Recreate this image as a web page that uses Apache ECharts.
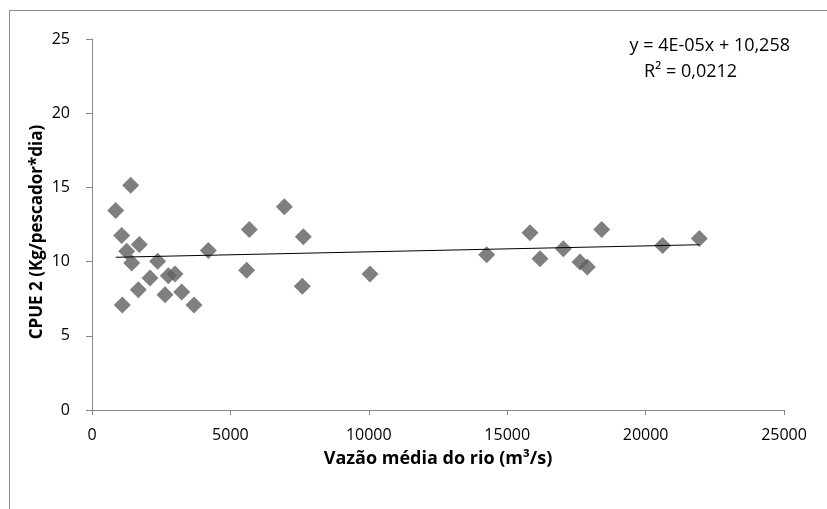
<!DOCTYPE html>
<html>
<head>
<meta charset="utf-8">
<script src="https://cdn.jsdelivr.net/npm/echarts@6/dist/echarts.min.js"></script>
<style>
  html, body { margin: 0; padding: 0; background: #fff; }
  #wrap { position: absolute; left: 9px; top: 10px; width: 900px; height: 600px;
          border-left: 1px solid #8c8c8c; border-top: 1px solid #8c8c8c; }
  #chart { position: absolute; left: 0; top: 0; width: 827px; height: 509px; }
</style>
</head>
<body>
<div id="wrap"></div>
<div id="chart"></div>
<script>
// vazão média do rio (m3/s)
const vazao = [856, 1398, 1072, 1710, 1253, 1433, 2372, 4203, 5684, 5587, 6948, 7635, 7598,
  2095, 2757, 2998, 1673, 2637, 3240, 3685, 1096,
  10043, 14259, 15824, 16185, 17027, 17630, 17894, 18413, 20614, 21940];
// CPUE 2 (kg/pescador*dia)
const cpue = [13.45, 15.14, 11.76, 11.15, 10.7, 9.91, 10.02, 10.74, 12.16, 9.41, 13.69, 11.67, 8.34,
  8.9, 9.05, 9.17, 8.11, 7.77, 7.95, 7.07, 7.07,
  9.17, 10.47, 11.94, 10.2, 10.86, 9.98, 9.64, 12.16, 11.08, 11.55];
// linha de tendência y = a*x + b
const slope = 0.00004;
const intercept = 10.258;
const xTicks = [0, 5000, 10000, 15000, 20000, 25000];
const yTicks = [0, 5, 10, 15, 20, 25];

const font = "'Open Sans', 'Liberation Sans', sans-serif";
const pts = vazao.map((v, i) => [v, cpue[i]]);
const xMin = Math.min(...vazao), xMax = Math.max(...vazao);
const trend = [[xMin, slope * xMin + intercept], [xMax, slope * xMax + intercept]];

const chart = echarts.init(document.getElementById('chart'));
chart.setOption({
  animation: false,
  grid: { left: 92, right: 43, top: 39, bottom: 99 },
  xAxis: {
    type: 'value', min: xTicks[0], max: xTicks[xTicks.length - 1], interval: 5000,
    name: 'Vazão média do rio (m³/s)', nameLocation: 'middle', nameGap: 40, nameMoveOverlap: false,
    nameTextStyle: { fontFamily: font, fontSize: 18, fontWeight: 'bold', color: '#000' },
    axisLine: { lineStyle: { color: '#868686' } },
    axisTick: { inside: false, length: 5, lineStyle: { color: '#868686' } },
    axisLabel: { fontFamily: font, fontSize: 16, color: '#000', margin: 17, formatter: v => String(v) },
    splitLine: { show: false }
  },
  yAxis: {
    type: 'value', min: yTicks[0], max: yTicks[yTicks.length - 1], interval: 5,
    axisLine: { show: true, lineStyle: { color: '#868686' } },
    axisTick: { show: true, length: 6, lineStyle: { color: '#868686' } },
    axisLabel: { fontFamily: font, fontSize: 16, color: '#000', margin: 22 },
    splitLine: { show: false }
  },
  series: [
    {
      type: 'line', data: trend, symbol: 'none', z: 3,
      lineStyle: { color: '#000', width: 1 }
    },
    {
      type: 'scatter', data: pts, symbol: 'diamond', symbolSize: 17, z: 2,
      itemStyle: { color: '#5f5f5f' }
    }
  ],
  graphic: [
    { type: 'text', x: 37, y: 232, rotation: Math.PI / 2,
      style: { text: 'CPUE 2 (Kg/pescador*dia)', font: 'bold 17px ' + font, fill: '#000',
               align: 'center', verticalAlign: 'middle' } },
    { type: 'text', right: 37, top: 37,
      style: { text: 'y = 4E-05x + 10,258', font: '18px ' + font, fill: '#000' } },
    { type: 'text', left: 644, top: 63,
      style: { text: 'R² = 0,0212', font: '18px ' + font, fill: '#000' } }
  ]
});
</script>
</body>
</html>
